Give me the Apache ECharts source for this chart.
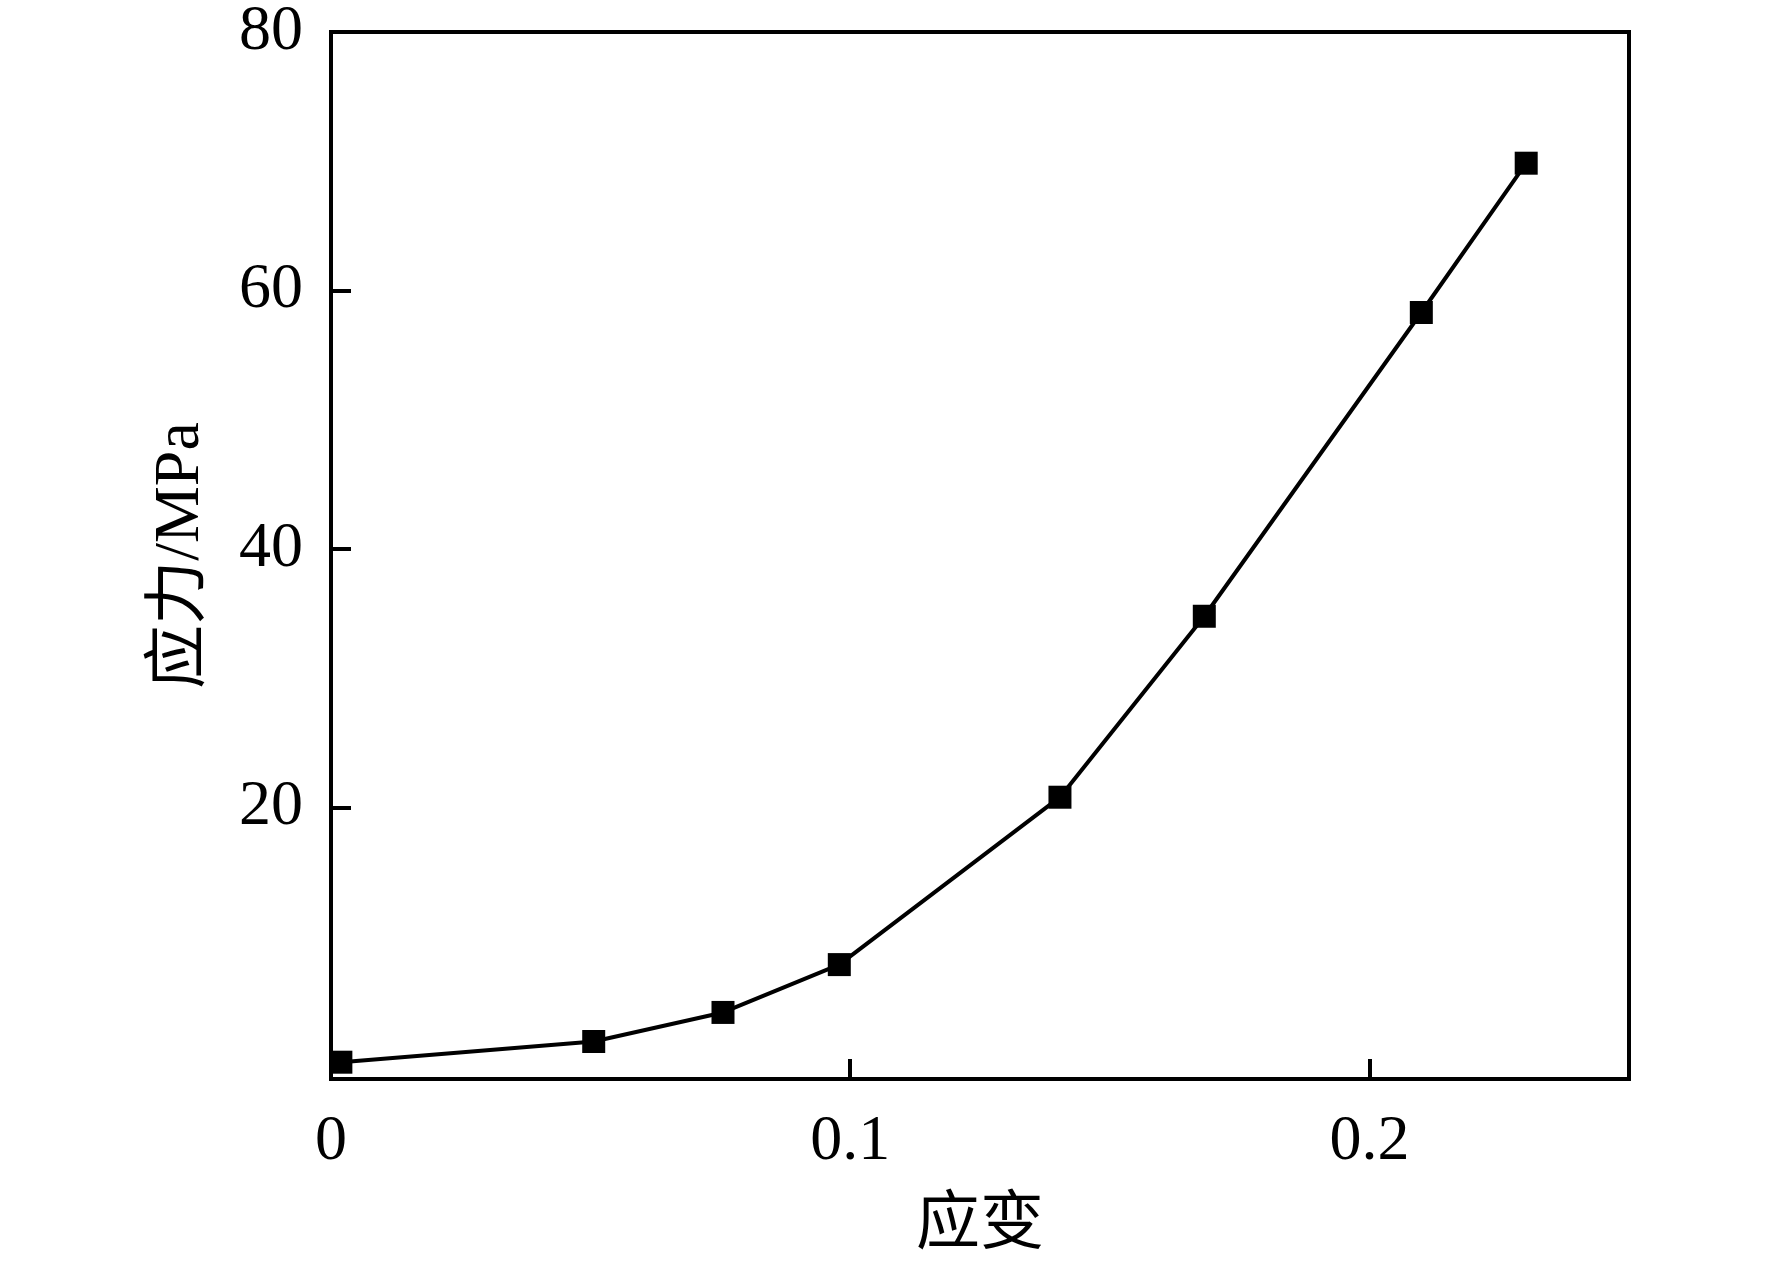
<!DOCTYPE html>
<html>
<head>
<meta charset="utf-8">
<script src="https://cdn.jsdelivr.net/npm/echarts@6/dist/echarts.min.js"></script>
<style>html,body{margin:0;padding:0;background:#fff;}#c{width:1772px;height:1263px;}</style>
</head>
<body>
<div id="c"></div>
<script>
const strain = [0.0019, 0.0506, 0.0755, 0.0979, 0.1404, 0.1682, 0.2100, 0.2302];
const stress = [0.3, 1.9, 4.15, 7.85, 20.8, 34.8, 58.3, 69.85];
const xTickValues = [0, 0.1, 0.2];
const xTickMarks = [0.1, 0.2];
const yTickValues = [20, 40, 60, 80];
const xName = '应变';
const yName = '应力/MPa';

const font = '"Liberation Serif", "Times New Roman", "Noto Sans CJK SC", serif';
const chart = echarts.init(document.getElementById('c'));
chart.setOption({
  backgroundColor: '#fff',
  animation: false,
  grid: {left: 331, right: 143, top: 32, bottom: 184, show: true, borderColor: '#000', borderWidth: 4, backgroundColor: 'transparent'},
  xAxis: {
    type: 'value', min: 0, max: 0.25,
    name: xName, nameLocation: 'middle', nameGap: 115,
    nameTextStyle: {fontFamily: font, fontSize: 64, color: '#000'},
    axisLine: {show: true, onZero: false, lineStyle: {color: '#000', width: 4}},
    axisTick: {show: true, inside: true, length: 20, lineStyle: {color: '#000', width: 4}, customValues: xTickMarks},
    axisLabel: {fontFamily: font, fontSize: 64, color: '#000', margin: 31, customValues: xTickValues},
    splitLine: {show: false}
  },
  yAxis: {
    type: 'value', min: -1, max: 80,
    name: yName, nameLocation: 'middle', nameGap: 118, nameRotate: 90,
    nameTextStyle: {fontFamily: font, fontSize: 64, color: '#000'},
    axisLine: {show: true, onZero: false, lineStyle: {color: '#000', width: 4}},
    axisTick: {show: true, inside: true, length: 20, lineStyle: {color: '#000', width: 4}, customValues: yTickValues},
    axisLabel: {fontFamily: font, fontSize: 64, color: '#000', margin: 28, customValues: yTickValues},
    splitLine: {show: false}
  },
  series: [{
    type: 'line',
    data: strain.map((x, i) => [x, stress[i]]),
    symbol: 'rect', symbolSize: 23,
    lineStyle: {color: '#000', width: 4},
    itemStyle: {color: '#000'},
    clip: false
  }]
});
</script>
</body>
</html>
